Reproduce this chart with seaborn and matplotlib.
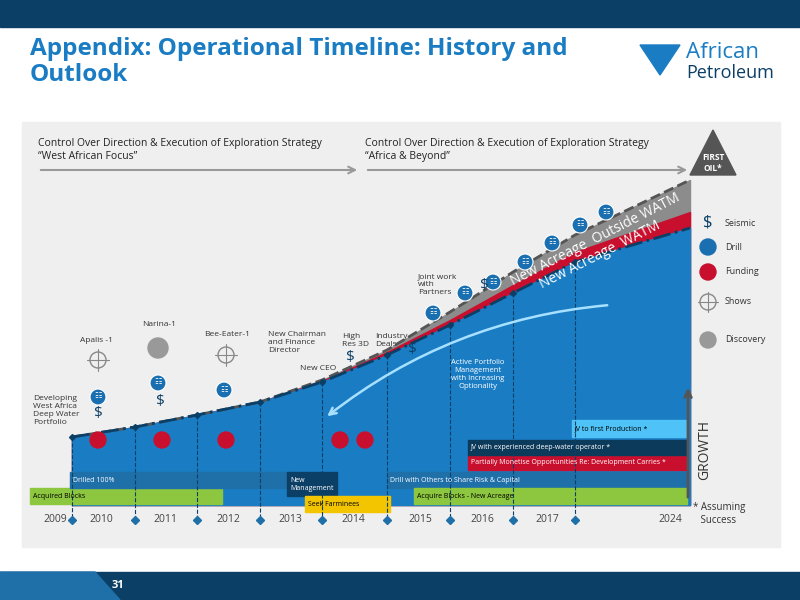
import matplotlib
matplotlib.use("Agg")
import matplotlib.pyplot as plt
import seaborn as sns
import numpy as np
import pandas as pd
from matplotlib.patches import Rectangle, Circle, Polygon

sns.set_theme(style="white")
plt.rcParams['font.family'] = ['Open Sans', 'DejaVu Sans']

# ---- data (pixel-space timeline) ----
years = ["2009", "2010", "2011", "2012", "2013", "2014", "2015", "2016", "2017", "2024"]
year_x = [55, 101, 165, 228, 290, 353, 420, 482, 547, 670]
milestone_x = [72, 135, 197, 260, 322, 387, 450, 513, 575, 690]
blue_top = [437, 427, 415, 402, 382, 355, 325, 293, 262, 228]
grey_top = [437, 427, 415, 402, 380, 350, 312, 272, 235, 180]
red_top = [437, 427, 415, 402, 381, 352, 320, 285, 252, 212]
diamond_x = [72, 135, 197, 260, 322, 387, 450, 513, 575]

bars = [
    ("Acquired Blocks", 30, 488, 192, 16, "#8dc63f"),
    ("Drilled 100%", 70, 472, 220, 16, "#1f6fa8"),
    ("New\nManagement", 287, 472, 50, 24, "#0c3f66"),
    ("Seek Farminees", 305, 496, 85, 16, "#f2c500"),
    ("Drill with Others to Share Risk & Capital", 387, 472, 300, 16, "#1f6fa8"),
    ("Acquire Blocks - New Acreage", 414, 488, 273, 16, "#8dc63f"),
    ("Partially Monetise Opportunities Re: Development Carries *", 468, 455, 219, 15, "#c8102e"),
    ("JV with experienced deep-water operator *", 468, 440, 219, 15, "#0c3a5a"),
    ("JV to first Production *", 572, 420, 115, 17, "#4fc3f7"),
]
funding_x = [98, 162, 226, 340, 365]
drill_icons = [(98, 397), (158, 383), (224, 390), (433, 313), (465, 293), (493, 282), (525, 262),
               (552, 243), (580, 225), (606, 212)]
seismic_marks = [(98, 413), (160, 402), (350, 358), (412, 350), (484, 285)]
shows = [(98, 360), (226, 355)]
discovery = [(158, 348)]
annotations = [
    ("Developing\nWest Africa\nDeep Water\nPortfolio", 33, 410),
    ("Apalis -1", 80, 340),
    ("Narina-1", 142, 325),
    ("Bee-Eater-1", 204, 334),
    ("New Chairman\nand Finance\nDirector", 268, 342),
    ("New CEO", 300, 368),
    ("High\nRes 3D", 342, 340),
    ("Industry\nDeals", 375, 340),
    ("Joint work\nwith\nPartners", 418, 285),
]
legend_items = ["Seismic", "Drill", "Funding", "Shows", "Discovery"]

fig = plt.figure(figsize=(8, 6), dpi=100)
ax = fig.add_axes([0, 0, 1, 1])
ax.set_xlim(0, 800); ax.set_ylim(600, 0); ax.axis("off")

# header / footer
ax.add_patch(Rectangle((0, 0), 800, 27, color="#0c3f66"))
ax.add_patch(Rectangle((0, 572), 800, 28, color="#0c3f66"))
ax.add_patch(Polygon([[0, 572], [95, 572], [120, 600], [0, 600]], color="#1f6fa8"))
ax.text(118, 586, "31", color="white", fontsize=8, ha="center", va="center", weight="bold")
ax.text(30, 62, "Appendix: Operational Timeline: History and\nOutlook", color="#1a7dc4",
        fontsize=17.5, weight="bold", va="center", linespacing=1.15)
ax.add_patch(Polygon([[640, 45], [680, 45], [660, 75]], color="#1a7dc4"))
ax.text(686, 52, "African", color="#1a7dc4", fontsize=16, va="center")
ax.text(686, 73, "Petroleum", color="#0c3f66", fontsize=13, va="center")

# panel
ax.add_patch(Rectangle((22, 122), 758, 425, color="#efefef"))
ax.text(38, 150, "Control Over Direction & Execution of Exploration Strategy\n\u201cWest African Focus\u201d",
        fontsize=7.5, va="center", color="#222")
ax.text(365, 150, "Control Over Direction & Execution of Exploration Strategy\n\u201cAfrica & Beyond\u201d",
        fontsize=7.5, va="center", color="#222")
ax.annotate("", xy=(360, 170), xytext=(38, 170), arrowprops=dict(arrowstyle="->", color="#999", lw=1.5))
ax.annotate("", xy=(690, 170), xytext=(365, 170), arrowprops=dict(arrowstyle="->", color="#999", lw=1.5))

# area
df = pd.DataFrame({"x": milestone_x, "blue": blue_top, "grey": grey_top, "red": red_top})
ax.fill_between(df.x, df.grey, 505, color="#8c8c8c")
ax.fill_between(df.x, df.red, 505, color="#c8102e")
ax.fill_between(df.x, df.blue, 505, color="#1a7dc4")
sns.lineplot(data=df, x="x", y="grey", ax=ax, color="#555", lw=2, linestyle="--")
sns.lineplot(data=df, x="x", y="blue", ax=ax, color="#0c3f66", lw=2, linestyle="-.")
ax.add_patch(Polygon([[690, 175], [713, 130], [736, 175]], color="#555"))
ax.text(713, 163, "FIRST\nOIL*", color="white", fontsize=6, ha="center", va="center", weight="bold")
ax.text(595, 240, "New Acreage  Outside WATM", color="white", fontsize=10, rotation=27, ha="center", va="center")
ax.text(600, 255, "New Acreage  WATM", color="white", fontsize=10, rotation=27, ha="center", va="center")

for mx, bt in zip(milestone_x[:-1], blue_top[:-1]):
    ax.plot([mx, mx], [bt, 520], color="#0c3f66", lw=0.8, ls="--")
    ax.plot(mx, bt, marker="D", ms=3, color="#0c3f66")
for dx in diamond_x:
    ax.plot(dx, 520, marker="D", ms=4, color="#1f6fa8")
for yl, yx in zip(years, year_x):
    ax.text(yx, 519, yl, fontsize=7.5, ha="center", va="center", color="#444")

for fx in funding_x:
    ax.add_patch(Circle((fx, 440), 8, color="#c8102e", zorder=4))
for x, y in drill_icons:
    ax.add_patch(Circle((x, y), 8, fc="#1a6fb0", ec="white", lw=0.8, zorder=4))
    ax.text(x, y, "\u2637", fontsize=6, color="white", ha="center", va="center", zorder=5)
for x, y in seismic_marks:
    ax.text(x, y, "$", fontsize=11, color="#0c3f66", ha="center", va="center", zorder=5)
for x, y in shows:
    ax.add_patch(Circle((x, y), 8, fc="#efefef", ec="#888"))
    ax.plot([x - 11, x + 11], [y, y], color="#888", lw=0.8); ax.plot([x, x], [y - 11, y + 11], color="#888", lw=0.8)
for x, y in discovery:
    ax.add_patch(Circle((x, y), 10, color="#999"))
for txt, x, y, w, h, c in bars:
    ax.add_patch(Rectangle((x, y), w, h, color=c))
    ax.text(x + 3, y + h / 2, txt, fontsize=5, color="black" if c in ("#8dc63f", "#f2c500", "#4fc3f7") else "white",
            va="center")
for txt, x, y in annotations:
    ax.text(x, y, txt, fontsize=6, color="#333", va="center")
ax.text(478, 375, "Active Portfolio\nManagement\nwith Increasing\nOptionality", fontsize=5.5, color="white", ha="center", va="center")
ax.annotate("", xy=(325, 418), xytext=(610, 305), arrowprops=dict(arrowstyle="->", color="#a8e0ff", lw=1.8,
            connectionstyle="arc3,rad=0.15"))

# legend
ly = [223, 247, 272, 302, 340]
for i, (lab, yy) in enumerate(zip(legend_items, ly)):
    if i == 0:
        ax.text(708, yy, "$", fontsize=12, color="#0c3f66", ha="center", va="center")
    elif i == 1:
        ax.add_patch(Circle((708, yy), 8, color="#1a6fb0"))
    elif i == 2:
        ax.add_patch(Circle((708, yy), 8, color="#c8102e"))
    elif i == 3:
        ax.add_patch(Circle((708, yy), 8, fc="#efefef", ec="#888"))
        ax.plot([698, 718], [yy, yy], color="#888", lw=0.8); ax.plot([708, 708], [yy - 10, yy + 10], color="#888", lw=0.8)
    else:
        ax.add_patch(Circle((708, yy), 8, color="#999"))
    ax.text(725, yy, lab, fontsize=6.5, color="#333", va="center")
ax.annotate("", xy=(688, 385), xytext=(688, 500), arrowprops=dict(arrowstyle="->", color="#555", lw=2))
ax.text(705, 450, "GROWTH", rotation=90, fontsize=10, color="#333", ha="center", va="center")
ax.text(693, 514, "* Assuming\n   Success", fontsize=7, color="#333", va="center")

fig.savefig("out.png", dpi=100)
